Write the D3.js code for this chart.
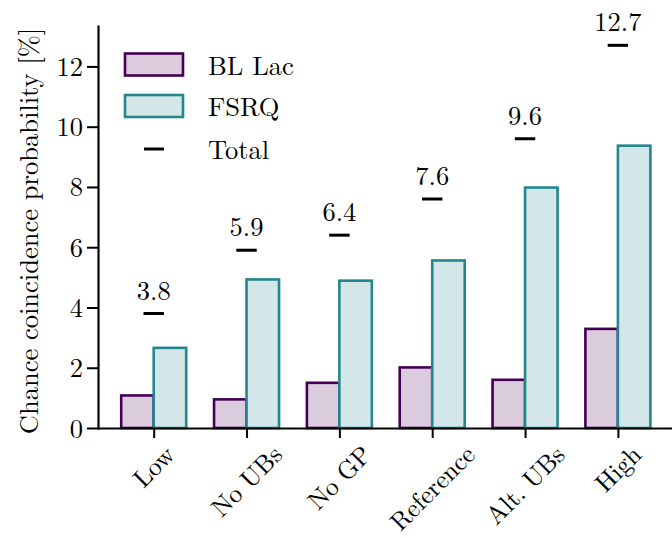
<!DOCTYPE html>
<html><head><meta charset="utf-8">
<script src="https://cdn.jsdelivr.net/npm/d3@7"></script>
<style>
body{margin:0;background:#fff}
svg{display:block}
</style>
</head><body>
<svg id="c" width="672" height="538"></svg>
<script>
const categories = ["Low","No UBs","No GP","Reference","Alt. UBs","High"];
const blLac = [1.08,0.95,1.50,2.01,1.60,3.29];
const fsrq = [2.66,4.93,4.89,5.56,7.98,9.37];
const totals = [3.8,5.9,6.4,7.6,9.6,12.7];
const yTicks = [0,2,4,6,8,10,12];
const seriesNames = ["BL Lac","FSRQ","Total"];
const yLabel = "Chance coincidence probability [%]";

const purple = "#440154", teal = "#23878d";
const purpleFill = "#dacbdd", tealFill = "#d3e6e8";
const FS = 26.5;
const XFS = 25.5;
const FONT = '"Latin Modern Roman", "Liberation Serif", serif';

const svg = d3.select("#c").attr("font-family",FONT);
const x = d3.scaleLinear().domain([-0.6,5.6]).range([98,673.6]);
const y = d3.scaleLinear().domain([0,13.335]).range([428,26.2]);
const bw = 0.35;

// bars
svg.append("g").selectAll("rect").data(blLac).join("rect")
  .attr("x",(d,i)=>x(i-bw)).attr("width",x(bw)-x(0))
  .attr("y",d=>y(d)).attr("height",d=>y(0)-y(d))
  .attr("fill",purpleFill).attr("stroke",purple).attr("stroke-width",2.6);
svg.append("g").selectAll("rect").data(fsrq).join("rect")
  .attr("x",(d,i)=>x(i)).attr("width",x(bw)-x(0))
  .attr("y",d=>y(d)).attr("height",d=>y(0)-y(d))
  .attr("fill",tealFill).attr("stroke",teal).attr("stroke-width",2.6);

// totals
const tg = svg.append("g");
tg.selectAll("line").data(totals).join("line")
  .attr("x1",(d,i)=>x(i-0.11)).attr("x2",(d,i)=>x(i+0.11))
  .attr("y1",d=>y(d)).attr("y2",d=>y(d))
  .attr("stroke","#000").attr("stroke-width",3);
tg.selectAll("text").data(totals).join("text")
  .attr("x",(d,i)=>x(i)).attr("y",d=>y(d)-14)
  .attr("text-anchor","middle").attr("font-size",FS).attr("font-family",FONT)
  .text(d=>d.toFixed(1));

// y axis
const ya = svg.append("g").attr("transform",`translate(${x(-0.6)},0)`)
  .call(d3.axisLeft(y).tickValues(yTicks).tickSize(11).tickSizeOuter(0).tickPadding(4));
// x axis
const xa = svg.append("g").attr("transform",`translate(0,${y(0)})`)
  .call(d3.axisBottom(x).tickValues(d3.range(categories.length)).tickFormat(i=>categories[i]).tickSize(10).tickSizeOuter(0));

[ya,xa].forEach(a=>{
  a.attr("font-family",FONT).attr("font-size",FS);
  a.select(".domain").attr("stroke","#000").attr("stroke-width",2.2).attr("stroke-linecap","square");
  a.selectAll(".tick line").attr("stroke","#000").attr("stroke-width",2);
  a.selectAll(".tick text").attr("font-size",FS).attr("font-family",FONT).attr("fill","#000");
});
ya.selectAll(".tick text").attr("dy","0.34em");

xa.selectAll(".tick text").each(function(){
  const t = d3.select(this);
  t.attr("y",null).attr("dy","0.32em").attr("text-anchor","middle").attr("font-size",XFS);
  const w = this.getComputedTextLength();
  const h = XFS*0.72;
  const off = 16 + (w+h)/(2*Math.SQRT2);
  t.attr("transform",`translate(0,${off}) rotate(-45)`);
});

// y label
svg.append("text").attr("transform","translate(38,231) rotate(-90)")
  .attr("text-anchor","middle").attr("font-size",FS).attr("font-family",FONT).text(yLabel);

// legend
const lg = svg.append("g");
const rows = [
  {name:seriesNames[0], type:"rect", fill:purpleFill, stroke:purple, cy:64.5},
  {name:seriesNames[1], type:"rect", fill:tealFill, stroke:teal, cy:106},
  {name:seriesNames[2], type:"line", cy:149}
];
rows.forEach(r=>{
  if(r.type==="rect"){
    lg.append("rect").attr("x",125).attr("y",r.cy-11).attr("width",58).attr("height",22)
      .attr("fill",r.fill).attr("stroke",r.stroke).attr("stroke-width",2.6);
  } else {
    lg.append("line").attr("x1",144).attr("x2",164).attr("y1",r.cy).attr("y2",r.cy)
      .attr("stroke","#000").attr("stroke-width",3);
  }
  lg.append("text").attr("x",208).attr("y",r.cy+10).attr("font-size",FS).attr("font-family",FONT).text(r.name);
});
</script>
</body></html>
